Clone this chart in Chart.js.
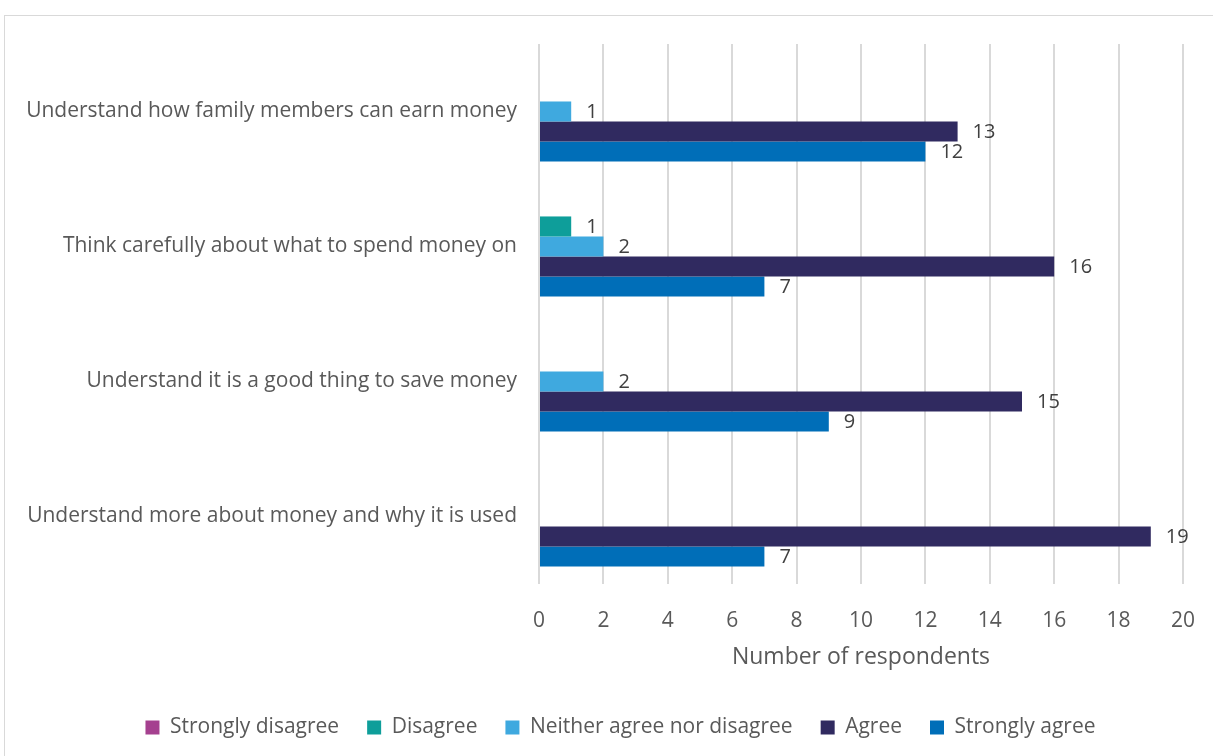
<!DOCTYPE html>
<html>
<head>
<meta charset="utf-8">
<script src="https://cdn.jsdelivr.net/npm/chart.js@4.4.1/dist/chart.umd.min.js"></script>
<style>
  html, body { margin: 0; padding: 0; background: #ffffff; overflow: hidden; }
  #frame { position: absolute; left: 4px; top: 15px; width: 1230px; height: 760px; border: 1px solid #d9d9d9; }
  #wrap { position: absolute; left: 0; top: 0; width: 1213px; height: 756px; }
</style>
</head>
<body>
<div id="frame"></div>
<div id="wrap"><canvas id="chart"></canvas></div>
<script>
// categories, top to bottom
var statements = [
  "Understand how family members can earn money",
  "Think carefully about what to spend money on",
  "Understand it is a good thing to save money",
  "Understand more about money and why it is used"
];

// respondents per answer (null = no bar)
var stronglyDisagree = [null, null, null, null];
var disagree = [null, 1, null, null];
var neither = [1, 2, 2, null];
var agree = [13, 16, 15, 19];
var stronglyAgree = [12, 7, 9, 7];

var xTicks = [0, 2, 4, 6, 8, 10, 12, 14, 16, 18, 20];

var fontName = "'Open Sans', sans-serif";

//draw the value next to each bar
var valueLabels = {
  id: "valueLabels",
  afterDatasetsDraw: function(chart){
    var ctx = chart.ctx;
    ctx.save();
    ctx.font = "20px " + fontName;
    ctx.fillStyle = "#404040";
    ctx.textAlign = "left";
    ctx.textBaseline = "middle";
    chart.data.datasets.forEach(function(ds, i){
      var meta = chart.getDatasetMeta(i);
      meta.data.forEach(function(bar, j){
        var v = ds.data[j];
        if(v === null || v === undefined) return;
        ctx.fillText(String(v), bar.x + 15, bar.y + 1);
      });
    });
    ctx.restore();
  }
};

//legend sits a bit right of the canvas centre
var legendShift = {
  id: "legendShift",
  afterLayout: function(chart){
    if(chart.legend){
      chart.legend.left += 29;
      chart.legend.right += 29;
    }
  }
};

var ctx = document.getElementById("chart");

var graph = new Chart(ctx, {
  type: "bar",
  data: {
    labels: statements,
    datasets: [
      { label: "Strongly disagree", data: stronglyDisagree, backgroundColor: "#a5408f" },
      { label: "Disagree", data: disagree, backgroundColor: "#0e9e9a" },
      { label: "Neither agree nor disagree", data: neither, backgroundColor: "#3fa9df" },
      { label: "Agree", data: agree, backgroundColor: "#302a60" },
      { label: "Strongly agree", data: stronglyAgree, backgroundColor: "#006eb8" }
    ]
  },
  options: {
    indexAxis: "y",
    responsive: true,
    maintainAspectRatio: false,
    animation: false,
    datasets: {
      bar: { categoryPercentage: 0.742, barPercentage: 1.0 }
    },
    layout: {
      padding: { top: 44, right: 30, left: 0, bottom: 8 }
    },
    scales: {
      x: {
        min: 0,
        max: 20,
        afterBuildTicks: function(s){
          s.ticks = xTicks.map(function(v){ return { value: v }; });
        },
        afterFit: function(s){
          s.height = 105;
          s.paddingLeft = 0;
          s.paddingRight = 0;
        },
        grid: { color: "#d9d9d9", lineWidth: 2, drawTicks: false },
        border: { display: false },
        ticks: {
          padding: 24,
          color: "#595959",
          font: { family: fontName, size: 21 }
        },
        title: {
          display: true,
          text: "Number of respondents",
          color: "#595959",
          font: { family: fontName, size: 23 },
          padding: { top: 0, bottom: 18 }
        }
      },
      y: {
        afterFit: function(s){ s.width = 539; },
        grid: { display: false, drawTicks: false },
        border: { display: false },
        ticks: {
          padding: 22,
          color: "#595959",
          font: { family: fontName, size: 21 }
        }
      }
    },
    plugins: {
      legend: {
        position: "bottom",
        labels: {
          boxWidth: 14,
          boxHeight: 14,
          padding: 28,
          color: "#595959",
          font: { family: fontName, size: 21 }
        }
      },
      tooltip: { enabled: false }
    }
  },
  plugins: [valueLabels, legendShift]
});
</script>
</body>
</html>
